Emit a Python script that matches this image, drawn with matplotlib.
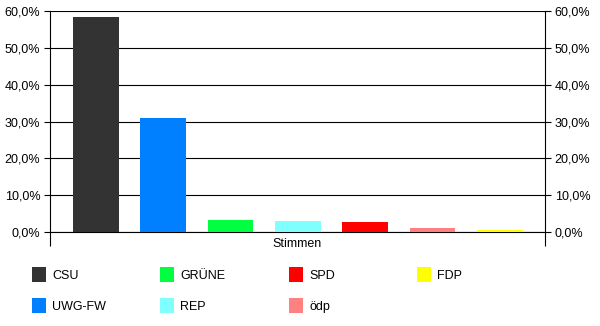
import matplotlib
matplotlib.use("Agg")
import matplotlib.pyplot as plt
from matplotlib.patches import Patch
from matplotlib.ticker import FuncFormatter, MultipleLocator

parties = ["CSU", "UWG-FW", "GRÜNE", "REP", "SPD", "ödp", "FDP"]
shares = [58.3, 30.9, 3.3, 3.0, 2.7, 1.1, 0.5]
colors = ["#333333", "#0080ff", "#00ff40", "#80ffff", "#ff0000", "#ff8080", "#ffff00"]
category = "Stimmen"

plt.rcParams["font.family"] = ["Liberation Sans", "DejaVu Sans"]
plt.rcParams["font.size"] = 9

fig = plt.figure(figsize=(6.0, 3.26), dpi=100)
ax = fig.add_axes([50 / 600, 94 / 326, 495 / 600, 221 / 326])

x = list(range(len(parties)))
ax.bar(x, shares, width=0.68, color=colors, zorder=3)

xmin, xmax = -0.68, 6.67
ax.set_xlim(xmin, xmax)
ax.set_ylim(0, 60)

# gridlines and percent ticks on both sides
ax.yaxis.set_major_locator(MultipleLocator(10))
ax.yaxis.set_major_formatter(FuncFormatter(lambda v, p: f"{v:.1f}%".replace(".", ",")))
ax.grid(axis="y", color="black", linewidth=0.8, zorder=1)
ax.tick_params(axis="y", left=True, right=True, labelleft=True, labelright=True,
               direction="out", length=4, width=0.8, pad=3, colors="black")

# category axis: ticks at both ends, label in the middle
ax.set_xticks([xmin, xmax])
ax.set_xticklabels(["", ""])
ax.tick_params(axis="x", which="major", direction="out", length=10, width=0.8)
ax.set_xticks([(xmin + xmax) / 2], minor=True)
ax.set_xticklabels([category], minor=True)
ax.tick_params(axis="x", which="minor", length=0, pad=4)

for side in ["left", "right", "bottom"]:
    ax.spines[side].set_color("black")
    ax.spines[side].set_linewidth(0.8)
ax.spines["top"].set_visible(False)

# legend, one block per column
handles = [Patch(facecolor=c, edgecolor="none") for c in colors]
col_x = [32, 160, 289, 417]
for i, cx in enumerate(col_x):
    h = handles[2 * i:2 * i + 2]
    l = parties[2 * i:2 * i + 2]
    fig.legend(h, l, loc="upper left", bbox_to_anchor=(cx / 600, 1 - 267 / 326),
               frameon=False, borderpad=0, borderaxespad=0,
               handlelength=1.12, handleheight=1.45, handletextpad=0.5,
               labelspacing=1.3, fontsize=9)

fig.savefig("out.png", dpi=100)
